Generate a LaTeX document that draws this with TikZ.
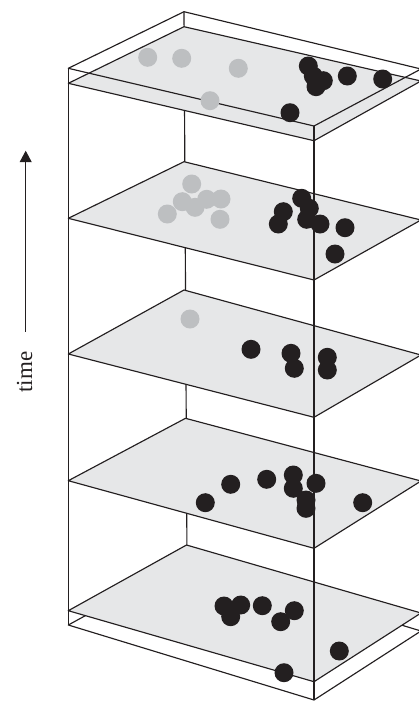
\documentclass[tikz,border=0pt]{standalone}
\usepackage{fontspec}
\setmainfont{Liberation Serif}
\usetikzlibrary{arrows.meta}
\definecolor{ink}{HTML}{231F20}
\definecolor{planegray}{HTML}{E6E7E8}
\definecolor{dotgray}{HTML}{BDBFC1}
\tikzset{
  edge/.style={draw=ink, line width=1.15pt, line join=round},
  plane/.style={edge, fill=planegray},
  gdot/.style={circle, fill=dotgray, inner sep=0pt, minimum size=19pt},
  bdot/.style={circle, fill=ink, inner sep=0pt, minimum size=19pt}
}
\begin{document}
\begin{tikzpicture}[x=1pt,y=-1pt]
\useasboundingbox (0,0) rectangle (419,702);
\clip (0,0) rectangle (419,702);
% box corners
\coordinate (tL) at (68.3,68.3); \coordinate (tB) at (184,11.7);
\coordinate (tF) at (314,126);   \coordinate (tR) at (421,69);
\coordinate (bL) at (68.3,625);  \coordinate (bB) at (187,560);
\coordinate (bF) at (314,700);   \coordinate (bR) at (421,631);
% bottom box face and hidden back edge
\draw[edge] (bL) -- (bB) -- (bR) -- (bF) -- cycle;
\draw[edge] (tB) -- (bB);
% planes
\draw[plane] (68.3,610.7) -- (186.5,545) -- (421,613) -- (314,681.7) -- cycle;
\draw[plane] (68.3,480.7) -- (185.5,418.3) -- (421,481) -- (314,548.3) -- cycle;
\draw[plane] (68.3,354) -- (184,290) -- (421,355) -- (314,417.3) -- cycle;
\draw[plane] (68.3,218.3) -- (184,161.7) -- (421,220) -- (314,280) -- cycle;
\draw[plane] (68.3,83.3) -- (184,26.7) -- (421,81) -- (314,140.7) -- cycle;
% top box face and front verticals
\draw[edge] (tL) -- (tB) -- (tR) -- (tF) -- cycle;
\draw[edge] (tL) -- (bL);
\draw[edge] (tF) -- (bF);
% dots: top plane
\node[gdot] (g5a) at (147.7,57.3) {};
\node[gdot] (g5b) at (181.7,58.3) {};
\node[gdot] (g5c) at (238.3,68.3) {};
\node[gdot] (g5d) at (210,100.7) {};
\node[bdot] (b5a) at (308.3,66) {};
\node[bdot] (b5b) at (313.3,76) {};
\node[bdot] (b5c) at (323.3,80.7) {};
\node[bdot] (b5d) at (316,86.7) {};
\node[bdot] (b5e) at (347.3,76) {};
\node[bdot] (b5f) at (382.7,79) {};
\node[bdot] (b5g) at (290,112.7) {};
% plane 4
\node[gdot] (g4a) at (191.7,184) {};
\node[gdot] (g4b) at (182.3,201.7) {};
\node[gdot] (g4c) at (195,207.3) {};
\node[gdot] (g4d) at (206.7,199.3) {};
\node[gdot] (g4e) at (221,199) {};
\node[gdot] (g4f) at (167.3,214) {};
\node[gdot] (g4g) at (220,219.3) {};
\node[bdot] (b4a) at (301.7,198.3) {};
\node[bdot] (b4b) at (309.3,208.3) {};
\node[bdot] (b4c) at (283.3,211.7) {};
\node[bdot] (b4d) at (278.3,224) {};
\node[bdot] (b4e) at (306.7,219.3) {};
\node[bdot] (b4f) at (320,224) {};
\node[bdot] (b4g) at (345,227.7) {};
\node[bdot] (b4h) at (335,254) {};
% plane 3
\node[gdot] (g3a) at (190,319) {};
\node[bdot] (b3a) at (251,349.3) {};
\node[bdot] (b3b) at (291,353.3) {};
\node[bdot] (b3c) at (294.3,368.3) {};
\node[bdot] (b3d) at (327.3,357.3) {};
\node[bdot] (b3e) at (327.3,370) {};
% plane 2
\node[bdot] (b2a) at (205.3,502.7) {};
\node[bdot] (b2b) at (230.7,484.3) {};
\node[bdot] (b2c) at (266.7,479.3) {};
\node[bdot] (b2d) at (293.3,475) {};
\node[bdot] (b2e) at (293.3,488.3) {};
\node[bdot] (b2f) at (316,483.3) {};
\node[bdot] (b2g) at (306,500) {};
\node[bdot] (b2h) at (306,508.3) {};
\node[bdot] (b2i) at (362.7,502.7) {};
% plane 1
\node[bdot] (b1a) at (224,606) {};
\node[bdot] (b1b) at (240.7,605) {};
\node[bdot] (b1c) at (230.7,616.7) {};
\node[bdot] (b1d) at (262.3,605.7) {};
\node[bdot] (b1e) at (294.3,610.7) {};
\node[bdot] (b1f) at (280.7,621.7) {};
\node[bdot] (b1g) at (339.3,651) {};
\node[bdot] (b1h) at (284,672.7) {};
% time arrow
\coordinate (tbase) at (25.7,331.7);
\coordinate (ttip) at (25.7,150.7);
\draw[edge, -{Triangle[length=11.5pt,width=12pt]}] (tbase) -- (ttip);
\node[rotate=90, inner sep=0pt, text=ink, font=\fontsize{23}{27}\selectfont] (timelabel) at (24.5,372) {time};
\end{tikzpicture}
\end{document}
